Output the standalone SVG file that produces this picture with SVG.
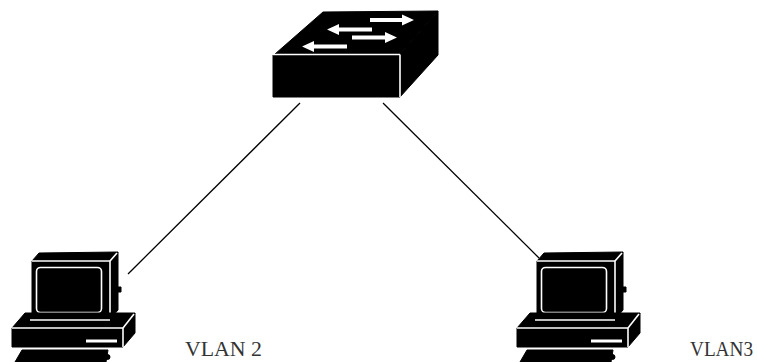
<svg xmlns="http://www.w3.org/2000/svg" width="757" height="362" viewBox="0 0 757 362">
<style>
.b{fill:#000;stroke:#000;stroke-width:1;stroke-linejoin:round}
.w{fill:none;stroke:#fff;stroke-width:1.6}
.wf{fill:#fff;stroke:none}
.ln{stroke:#000;stroke-width:1.3;fill:none}
.lbl{font-family:"Liberation Serif","Times New Roman",serif;font-size:20px;fill:#333}
</style>
<defs>
<g id="pc">
  <!-- monitor -->
  <polygon class="b" points="32,261 39,253 118,252 110,261"/>
  <rect class="b" x="32" y="261" width="78" height="58"/>
  <polygon class="b" points="110,261 118,252 118,310 110,319"/>
  <rect class="b" x="117" y="287" width="4" height="5"/>
  <line class="w" x1="32" y1="261" x2="110" y2="261"/>
  <line class="w" x1="110" y1="261" x2="110" y2="319"/>
  <line class="w" x1="110" y1="261" x2="117" y2="253"/>
  <rect class="w" x="36.5" y="267.5" width="65" height="45" rx="4"/>
  <!-- base -->
  <polygon class="b" points="12,328 25,313 135,313 123,328"/>
  <rect class="b" x="12" y="328" width="111" height="19"/>
  <polygon class="b" points="123,328 135,313 135,333 123,347"/>
  <line class="w" x1="30" y1="320" x2="110" y2="320"/>
  <line class="w" x1="12" y1="328" x2="123" y2="328"/>
  <line class="w" x1="123" y1="328" x2="123" y2="347"/>
  <line class="w" x1="123" y1="328" x2="134" y2="314"/>
  <rect class="wf" x="86" y="339.5" width="31" height="3"/>
  <!-- keyboard -->
  <polygon class="b" points="22,350 108,350 106,362 15,362"/>
  <circle class="b" cx="107.5" cy="357" r="2.5"/>
</g>
</defs>

<g id="connectors">
  <line class="ln" x1="300" y1="103" x2="128" y2="274"/>
  <line class="ln" x1="383" y1="103" x2="539" y2="258"/>
</g>

<g id="switch">
  <polygon class="b" points="275,54 323,12 438,11 400,54"/>
  <rect class="b" x="273" y="55" width="127" height="42"/>
  <polygon class="b" points="400,54 438,11 438,55 400,97"/>
  <line class="w" x1="273" y1="54.5" x2="400" y2="54.5"/>
  <line class="w" x1="400" y1="54.5" x2="400" y2="97"/>
  <!-- arrows -->
  <path class="wf" d="M370,18 H402 V14.5 L414,20 L402,25.5 V22 H370 Z"/>
  <path class="wf" d="M372,27.5 H339 V24 L327,29.5 L339,35 V31.5 H372 Z"/>
  <path class="wf" d="M352,35.5 H385 V32 L397,37.5 L385,43 V39.5 H352 Z"/>
  <path class="wf" d="M347,44.5 H314 V41 L302,46.5 L314,52 V48.5 H347 Z"/>
</g>

<g id="pc-vlan2">
  <use href="#pc"/>
  <text class="lbl" x="185" y="356" textLength="77" lengthAdjust="spacingAndGlyphs">VLAN 2</text>
</g>

<g id="pc-vlan3">
  <use href="#pc" transform="translate(505,0)"/>
  <text class="lbl" x="690" y="356" textLength="63" lengthAdjust="spacingAndGlyphs">VLAN3</text>
</g>
</svg>
